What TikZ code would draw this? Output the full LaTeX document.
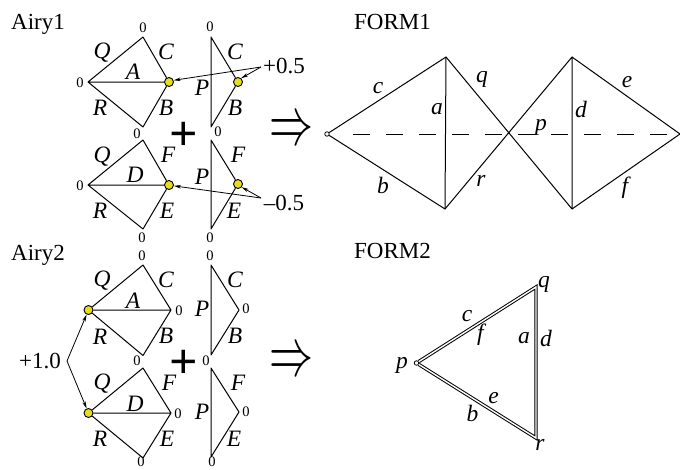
\documentclass[tikz,border=0pt]{standalone}
\usepackage{fontspec}
\usepackage{graphicx}
\setmainfont{Liberation Serif}
\usetikzlibrary{arrows.meta}
\tikzset{
  lab/.style={inner sep=0pt,font=\fontsize{23.5}{25}\selectfont\itshape},
  txt/.style={inner sep=0pt,font=\fontsize{23}{25}\selectfont},
  title/.style={inner sep=0pt,anchor=base west,font=\fontsize{23}{25}\selectfont},
  zero/.style={inner sep=0pt,font=\fontsize{14.5}{16}\selectfont},
  edge/.style={line width=1pt,line join=round},
  dbl/.style={line width=1pt,double distance=1.4pt,line join=miter},
  dot/.style={circle,draw=black,fill=yellow!90!black,line width=0.9pt,minimum size=9pt,inner sep=0pt},
  vtx/.style={circle,draw=black,fill=white,line width=0.8pt,minimum size=4.5pt,inner sep=0pt},
  ptr/.style={line width=0.8pt,-{Stealth[length=7pt,width=3.5pt]}},
  bigplus/.style={inner sep=0pt,font=\fontsize{50}{52}\selectfont\bfseries},
}
\newcommand{\bigarrow}{\resizebox{44pt}{25pt}{$\Rightarrow$}}
\begin{document}
\begin{tikzpicture}[x=1pt,y=-1pt]
\useasboundingbox (0,0) rectangle (680,469);
% ---------- Airy1
\node[title] (airyA) at (11,29) {Airy1};
\coordinate (a1l) at (88,82); \coordinate (a1t) at (143,37); \coordinate (a1b) at (143,127);
\node[dot] (a1r) at (169,82) {};
\draw[edge] (a1r) -- (a1t) -- (a1l) -- (a1b) -- (a1r) -- (a1l);
\coordinate (a1pt) at (211,37); \coordinate (a1pb) at (211,127);
\node[dot] (a1x) at (238,82) {};
\draw[edge] (a1x) -- (a1pt) -- (a1pb) -- (a1x);
\coordinate (a2l) at (88,185); \coordinate (a2t) at (143,140); \coordinate (a2b) at (143,229);
\node[dot] (a2r) at (169,185) {};
\draw[edge] (a2r) -- (a2t) -- (a2l) -- (a2b) -- (a2r) -- (a2l);
\coordinate (a2pt) at (211,140); \coordinate (a2pb) at (211,229);
\node[dot] (a2x) at (238,184) {};
\draw[edge] (a2x) -- (a2pt) -- (a2pb) -- (a2x);
\foreach \n/\t/\x/\y in {a/Q/102/53,b/C/166/52,c/A/133/72,d/R/100/108,e/B/166/108,f/P/202/88,g/C/235/52,h/B/235/108,
  i/Q/102/157,j/F/168/155,k/D/135/175,l/R/100/211,m/E/167/211,n/P/202/177,o/F/238/155,p/E/234/211}
  \node[lab] (u\n) at (\x,\y) {\t};
\foreach \n/\x/\y in {a/143/28,b/80/83,c/137/134,d/210/27,e/218/132,f/80/186,g/142/238,h/210/238}
  \node[zero] (zu\n) at (\x,\y) {0};
\node[bigplus] (plusA) at (183.5,136) {+};
\node[inner sep=0pt] (implA) at (291,132) {\bigarrow};
\node[txt] (pfive) at (284,66) {+0.5};
\node[txt] (mfive) at (284,203) {–0.5};
\coordinate (pf) at (261,67); \coordinate (mf) at (261,198);
\draw[ptr] (pf) -- (a1r.20);
\draw[ptr] (pf) -- (a1x.50);
\draw[ptr] (mf) -- (a2r.-10);
\draw[ptr] (mf) -- (a2x.-40);
% ---------- Airy2
\node[title] (airyB) at (11,260) {Airy2};
\node[dot] (b1l) at (88.5,310) {}; \coordinate (b1t) at (143,265); \coordinate (b1b) at (143,355.5); \coordinate (b1r) at (171,310);
\draw[edge] (b1l) -- (b1t) -- (b1r) -- (b1b) -- (b1l) -- (b1r);
\coordinate (b1pt) at (211,265); \coordinate (b1pb) at (211,355); \coordinate (b1x) at (239,310);
\draw[edge] (b1pt) -- (b1pb) -- (b1x) -- cycle;
\node[dot] (b2l) at (88.5,413) {}; \coordinate (b2t) at (143,368); \coordinate (b2b) at (143,458); \coordinate (b2r) at (171,413);
\draw[edge] (b2l) -- (b2t) -- (b2r) -- (b2b) -- (b2l) -- (b2r);
\coordinate (b2pt) at (211,368); \coordinate (b2pb) at (211,457); \coordinate (b2x) at (239,412);
\draw[edge] (b2pt) -- (b2pb) -- (b2x) -- cycle;
\foreach \n/\t/\x/\y in {a/Q/102/281,b/C/166/280,c/A/133/301,d/R/100/337,e/B/166/336,f/P/202/309,g/C/235/280,h/B/235/336,
  i/Q/102/384,j/F/169/383,k/D/135/404,l/R/100/439,m/E/167/439,n/P/202/412,o/F/238/383,p/E/234/439}
  \node[lab] (v\n) at (\x,\y) {\t};
\foreach \n/\x/\y in {a/142/256,b/210/256,c/179/311,d/246/309,e/137/361,f/206/361,g/178/414,h/246/412,i/141/462,j/212/462}
  \node[zero] (zv\n) at (\x,\y) {0};
\node[bigplus] (plusB) at (183.5,364) {+};
\node[inner sep=0pt] (implB) at (291,363) {\bigarrow};
\node[txt] (pone) at (40,361) {+1.0};
\coordinate (po) at (67,361);
\draw[ptr] (po) -- (b1l);
\draw[ptr] (po) -- (b2l);
% ---------- FORM1
\node[title] (formA) at (354,29) {FORM1};
\node[vtx] (f1a) at (327,134) {};
\coordinate (f1t) at (446,57); \coordinate (f1b) at (445,209); \coordinate (f1x) at (509,134);
\coordinate (f1u) at (572,57); \coordinate (f1d) at (572,209); \coordinate (f1e) at (680,134);
\coordinate (f1s) at (353,134);
\draw[edge] (f1a) -- (f1t) -- (f1b) -- (f1a);
\draw[edge] (f1t) -- (f1d) -- (f1u) -- (f1b);
\draw[edge] (f1u) -- (f1e) -- (f1d);
\draw[line width=0.9pt,dash pattern=on 17pt off 16pt] (f1s) -- (f1e);
\foreach \n/\t/\x/\y in {c/c/378/88,a/a/437/109,q/q/482/79,p/p/541/127,d/d/581/109,e/e/627/82,b/b/383/185,r/r/481/181,f/f/625/188}
  \node[lab] (w\n) at (\x,\y) {\t};
% ---------- FORM2
\node[title] (formB) at (354,258) {FORM2};
\node[vtx] (f2p) at (416.5,363) {};
\coordinate (f2q) at (536,287); \coordinate (f2r) at (536,438);
\draw[dbl] (f2p) -- (f2q) -- (f2r) -- (f2p);
\foreach \n/\t/\x/\y in {p/p/402/365,q/q/544/284,r/r/540/445,c/c/467/316,f/f/480.5/335,a/a/524/338,d/d/546/338,e/e/493.5/398,b/b/472.5/413}
  \node[lab] (x\n) at (\x,\y) {\t};
\end{tikzpicture}
\end{document}
